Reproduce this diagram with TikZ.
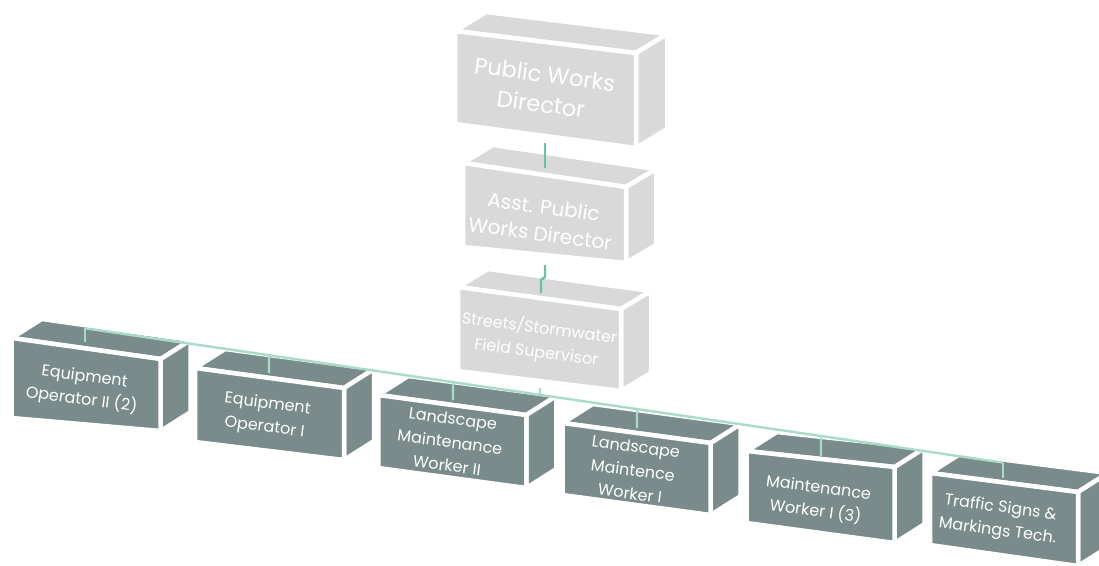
\documentclass[tikz,border=0pt]{standalone}
\usepackage{fontspec}
\setmainfont{Poppins}
\usetikzlibrary{calc}
\definecolor{lightbox}{HTML}{D9D9D9}
\definecolor{darkbox}{HTML}{798B8B}
\definecolor{connA}{HTML}{66C4A4}
\definecolor{connB}{HTML}{A9DCC8}
\tikzset{
  face/.style={fill=#1, draw=white, line width=4.5pt, line join=miter},
  lbl/.style={text=white, align=center, inner sep=0pt, rotate=-7.5},
  bigtxt/.style={lbl, font=\fontsize{22.5}{30}\selectfont},
  midtxt/.style={lbl, font=\fontsize{20}{27}\selectfont},
  sfstxt/.style={lbl, font=\fontsize{16}{24}\selectfont},
  smalltxt/.style={lbl, font=\fontsize{16}{23.5}\selectfont},
  vconn/.style={draw=connA, line width=2.4pt},
  busline/.style={draw=connB, line width=2.4pt},
}
\newcommand\cuboid[9]{% name, x, y, W, hL, hR, rise, colour, depth (dx,dy)
  \coordinate (#1-A) at (#2,#3);
  \coordinate (#1-B) at ($(#1-A)+(#4,#7)$);
  \coordinate (#1-C) at ($(#1-B)+(0,#6)$);
  \coordinate (#1-D) at ($(#1-A)+(0,#5)$);
  \path[face=#8] (#1-A) -- (#1-B) -- ($(#1-B)+#9$) -- ($(#1-A)+#9$) -- cycle;
  \path[face=#8] (#1-B) -- ($(#1-B)+#9$) -- ($(#1-C)+#9$) -- (#1-C) -- cycle;
  \path[face=#8] (#1-A) -- (#1-B) -- (#1-C) -- (#1-D) -- cycle;
}
\begin{document}
\begin{tikzpicture}[x=1pt,y=-1pt]
\useasboundingbox (0,0) rectangle (1099,565);
\clip (0,0) rectangle (1099,565);
% upper chain
\cuboid{pwd}{455}{31}{181}{93}{95}{22}{lightbox}{(31,-19)}
\cuboid{apwd}{463}{163}{163}{84}{76}{24}{lightbox}{(30,-18)}
\cuboid{sfs}{458}{287}{163}{84}{82}{22}{lightbox}{(30,-18)}
\node[bigtxt] (pwdt) at (543,89) {Public Works\\Director};
\node[midtxt] (apwdt) at (542,220) {Asst. Public\\Works Director};
\node[sfstxt] (sfst) at (538,340) {Streets/Stormwater\\Field Supervisor};
% lower row
\cuboid{b1}{11.7}{338}{149}{80}{72}{21}{darkbox}{(30,-19)}
\cuboid{b2}{195}{368}{149}{74}{72}{20}{darkbox}{(30,-19)}
\cuboid{b3}{378.3}{395}{148}{73}{73}{20}{darkbox}{(30,-19)}
\cuboid{b4}{562.7}{423}{148}{72}{72}{20}{darkbox}{(30,-19)}
\cuboid{b5}{746.7}{451}{148}{72}{76}{16}{darkbox}{(30,-19)}
\cuboid{b6}{930}{473}{148}{72}{74}{19}{darkbox}{(30,-19)}
\node[smalltxt] (b1t) at (83,389) {Equipment\\Operator II (2)};
\node[smalltxt] (b2t) at (266,416) {Equipment\\Operator I};
\node[smalltxt] (b3t) at (450,442) {Landscape\\Maintenance\\Worker II};
\node[smalltxt] (b4t) at (633,470) {Landscape\\Maintence\\Worker I};
\node[smalltxt] (b5t) at (817,500) {Maintenance\\Worker I (3)};
\node[smalltxt] (b6t) at (999,520) {Traffic Signs \&\\Markings Tech.};
% connectors
\coordinate (pwdout) at (545,143);
\coordinate (apwdin) at (545,168);
\draw[vconn] (pwdout) -- (apwdin);
\coordinate (apwdout) at (545,265);
\coordinate (sfsin) at (541,293);
\draw[vconn] (apwdout) -- (545,277) -- (541,280) -- (sfsin);
\coordinate (busL) at (85,328.3);
\coordinate (busR) at (1003,462.6);
\draw[busline] (busL) -- (busR);
\coordinate (sfsout) at (540,388);
\draw[busline] (sfsout) -- ($(busL)!{(540-85)/918}!(busR)$);
\coordinate (b1in) at (85,342);
\coordinate (b2in) at (269,373);
\coordinate (b3in) at (453,400);
\coordinate (b4in) at (637,428);
\coordinate (b5in) at (821,456);
\coordinate (b6in) at (1003,478);
\draw[busline] (busL) -- (b1in);
\draw[busline] ($(busL)!{(269-85)/918}!(busR)$) -- (b2in);
\draw[busline] ($(busL)!{(453-85)/918}!(busR)$) -- (b3in);
\draw[busline] ($(busL)!{(637-85)/918}!(busR)$) -- (b4in);
\draw[busline] ($(busL)!{(821-85)/918}!(busR)$) -- (b5in);
\draw[busline] (busR) -- (b6in);
\end{tikzpicture}
\end{document}
